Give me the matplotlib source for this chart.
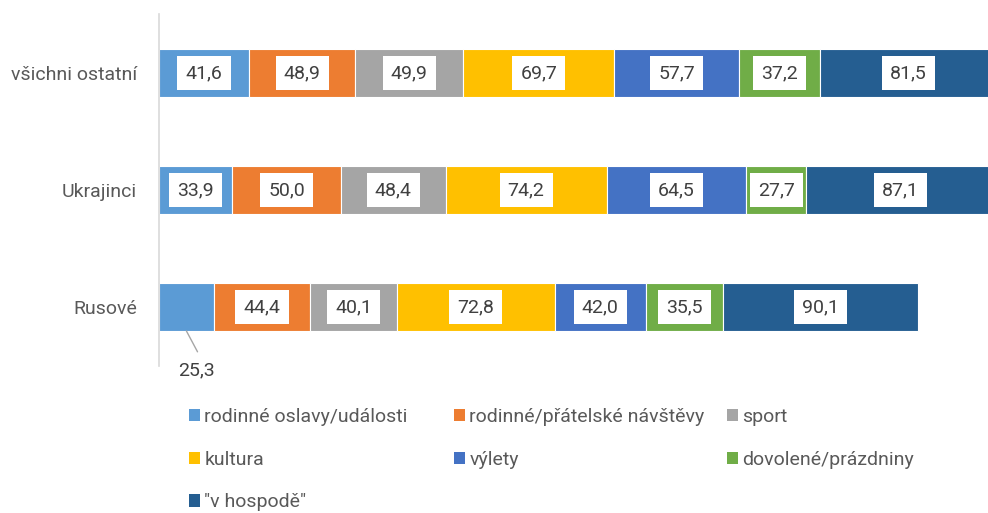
import numpy as np
import matplotlib.pyplot as plt
from matplotlib.patches import Patch

plt.rcParams['font.family'] = ['Roboto', 'DejaVu Sans']

skupiny = ['všichni ostatní', 'Ukrajinci', 'Rusové']
serie = ['rodinné oslavy/události', 'rodinné/přátelské návštěvy', 'sport',
         'kultura', 'výlety', 'dovolené/prázdniny', '"v hospodě"']
barvy = ['#5B9BD5', '#ED7D31', '#A5A5A5', '#FFC000', '#4472C4', '#70AD47', '#255E91']

oslavy = [41.6, 33.9, 25.3]
navstevy = [48.9, 50.0, 44.4]
sport = [49.9, 48.4, 40.1]
kultura = [69.7, 74.2, 72.8]
vylety = [57.7, 64.5, 42.0]
dovolena = [37.2, 27.7, 35.5]
hospoda = [81.5, 87.1, 90.1]

hodnoty = np.array([oslavy, navstevy, sport, kultura, vylety, dovolena, hospoda])

fig = plt.figure(figsize=(9.88, 5.13), dpi=100)
ax = fig.add_axes([159/988, 147.5/513, 1 - 159/988, (498.5 - 147.5)/513])

y = np.arange(len(skupiny))
vyska = 0.41
zacatek = np.zeros(len(skupiny))
for i, h in enumerate(hodnoty):
    ax.barh(y, h, left=zacatek, height=vyska, color=barvy[i],
            edgecolor='white', linewidth=0.8)
    for j in range(len(skupiny)):
        stred = zacatek[j] + h[j] / 2
        txt = f'{h[j]:.1f}'.replace('.', ',')
        if i == 0 and j == 2:
            # maly segment - popisek pod sloupcem s odkazovou carou
            ax.annotate('', xy=(stred, y[j] + vyska / 2), xytext=(8, -15),
                        textcoords='offset points',
                        arrowprops=dict(arrowstyle='-', color='#A6A6A6', lw=1,
                                        shrinkA=0, shrinkB=0))
            ax.annotate(txt, xy=(stred, y[j] + vyska / 2), xytext=(7, -28),
                        textcoords='offset points', ha='center', va='center',
                        fontsize=14, color='#404040')
        else:
            ax.text(stred, y[j], txt, ha='center', va='center', fontsize=14,
                    color='#404040',
                    bbox=dict(boxstyle='square,pad=0.42', fc='white', ec='none'))
    zacatek += h

ax.set_xlim(0, 382.5)
ax.set_ylim(2.5, -0.5)
ax.set_yticks(y)
ax.set_yticklabels(skupiny, fontsize=14, color='#595959')
ax.tick_params(axis='y', length=0, pad=16)
ax.set_xticks([])
for s in ['top', 'right', 'bottom']:
    ax.spines[s].set_visible(False)
ax.spines['left'].set_color('#D9D9D9')
ax.spines['left'].set_linewidth(1.2)

# legenda po sloupcich (Excel ji plni po radcich)
sloupce = [[0, 3, 6], [1, 4], [2, 5]]
pozice_x = [189/988, 454/988, 727/988]
for idx, px in zip(sloupce, pozice_x):
    handles = [Patch(facecolor=barvy[k]) for k in idx]
    labels = [serie[k] for k in idx]
    fig.legend(handles, labels, loc='upper left', bbox_to_anchor=(px, 1 - 408/513),
               frameon=False, fontsize=14, labelcolor='#595959',
               handlelength=0.57, handleheight=0.6, handletextpad=0.22,
               labelspacing=1.27, borderpad=0, borderaxespad=0)

fig.savefig('out.png', dpi=100)
